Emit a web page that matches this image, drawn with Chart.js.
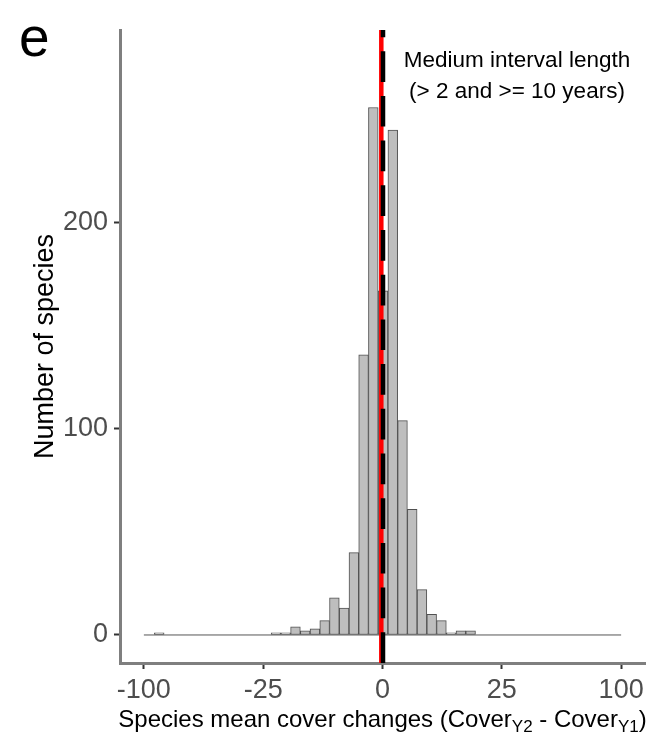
<!DOCTYPE html>
<html><head><meta charset="utf-8">
<script src="https://cdn.jsdelivr.net/npm/chart.js@4.4.1/dist/chart.umd.min.js"></script>
<style>html,body{margin:0;padding:0;background:#fff;}#wrap{width:649px;height:738px;}</style>
</head><body><div id="wrap"><canvas id="c" width="649" height="738"></canvas></div>
<script>
// Histogram bins: centres on the signed-square-root scale of the x axis
const binCentersSqrt = [-9.356, -4.463, -4.055, -3.647, -3.239, -2.832, -2.424, -2.016, -1.608, -1.200, -0.793, -0.385, 0.023, 0.431, 0.839, 1.246, 1.654, 2.062, 2.470, 2.878, 3.285, 3.693];
const speciesCounts  = [1, 1, 1, 4, 2, 3, 7, 18, 13, 40, 136, 256, 167, 245, 104, 61, 22, 10, 7, 1, 2, 2];
const xTickValues = [-100, -25, 0, 25, 100];
const xTickLabels = ['-100', '-25', '0', '25', '100'];
const yTickValues = [0, 100, 200];
const yTickLabels = ['0', '100', '200'];
const baselineRange = [-100, 100];
const zeroLineValue = 0;
const meanChangeValue = -0.0025;
const panelLabel = 'e';
const annotationLines = ['Medium interval length', '(> 2 and >= 10 years)'];
const yTitleText = 'Number of species';
const xTitleParts = [
  {t: 'Species mean cover changes (Cover', sub: false},
  {t: 'Y2', sub: true},
  {t: ' - Cover', sub: false},
  {t: 'Y1', sub: true},
  {t: ')', sub: false}
];

const ssqrt = v => Math.sign(v) * Math.sqrt(Math.abs(v));
const FONT = "'Liberation Sans', Arial, sans-serif";

const overlay = {
  id: 'overlay',
  afterDatasetsDraw(chart) {
    const {ctx, chartArea, scales: {x}} = chart;
    const xr = x.getPixelForValue(ssqrt(meanChangeValue));
    ctx.save();
    ctx.strokeStyle = '#FF0000';
    ctx.lineWidth = 4.5;
    ctx.beginPath(); ctx.moveTo(xr, chartArea.bottom); ctx.lineTo(xr, chartArea.top); ctx.stroke();
    const xz = x.getPixelForValue(ssqrt(zeroLineValue)) + 0.5;
    ctx.strokeStyle = '#000000';
    ctx.lineWidth = 4.5;
    ctx.setLineDash([30.7, 14]);
    ctx.beginPath(); ctx.moveTo(xz, chartArea.bottom); ctx.lineTo(xz, chartArea.top); ctx.stroke();
    ctx.restore();
  },
  afterDraw(chart) {
    const {ctx, chartArea} = chart;
    ctx.save();
    ctx.fillStyle = '#000';
    ctx.font = '55px ' + FONT;
    ctx.textAlign = 'left'; ctx.textBaseline = 'alphabetic';
    ctx.fillText(panelLabel, 19, 56);
    ctx.font = '22.5px ' + FONT;
    ctx.textAlign = 'center';
    ctx.fillText(annotationLines[0], 517, 67);
    ctx.fillText(annotationLines[1], 517, 98);
    ctx.font = '27px ' + FONT;
    ctx.save();
    ctx.translate(53, (chartArea.top + chartArea.bottom) / 2);
    ctx.rotate(-Math.PI / 2);
    ctx.textAlign = 'center';
    ctx.fillText(yTitleText, 0, 0);
    ctx.restore();
    const mainF = '24px ' + FONT, subF = '17px ' + FONT;
    let total = 0;
    xTitleParts.forEach(p => { ctx.font = p.sub ? subF : mainF; p.w = ctx.measureText(p.t).width; total += p.w; });
    let cx = (chartArea.left + chartArea.right) / 2 - total / 2;
    ctx.textAlign = 'left';
    xTitleParts.forEach(p => {
      ctx.font = p.sub ? subF : mainF;
      ctx.fillText(p.t, cx, p.sub ? 732 : 727);
      cx += p.w;
    });
    ctx.restore();
  }
};

new Chart(document.getElementById('c'), {
  data: {
    datasets: [
      {
        type: 'bar',
        data: binCentersSqrt.map((c, i) => ({x: c, y: speciesCounts[i]})),
        backgroundColor: '#BEBEBE',
        borderColor: '#505050',
        borderWidth: 1,
        borderSkipped: false,
        barPercentage: 1,
        categoryPercentage: 1,
        grouped: false,
        order: 1
      },
      {
        type: 'line',
        data: baselineRange.map(v => ({x: ssqrt(v), y: 0})),
        borderColor: '#555555',
        borderWidth: 1,
        pointRadius: 0,
        order: 2
      }
    ]
  },
  options: {
    responsive: false,
    animation: false,
    devicePixelRatio: 1,
    layout: {padding: {top: 30, right: 4, left: 0, bottom: 0}},
    plugins: {legend: {display: false}, tooltip: {enabled: false}},
    scales: {
      x: {
        type: 'linear', min: -11, max: 11, offset: false,
        afterBuildTicks: s => { s.ticks = xTickValues.map(v => ({value: ssqrt(v)})); },
        afterFit: s => { s.height = 75; },
        ticks: {callback: (v, i) => xTickLabels[i], autoSkip: false, maxRotation: 0,
          font: {family: FONT, size: 27}, color: '#4D4D4D', padding: 5},
        grid: {display: true, offset: false, drawOnChartArea: false, drawTicks: true, tickLength: 6, tickWidth: 2, tickColor: '#333333'},
        border: {display: true, color: '#7F7F7F', width: 3}
      },
      y: {
        type: 'linear', min: -13.6, max: 293.6,
        afterBuildTicks: s => { s.ticks = yTickValues.map(v => ({value: v})); },
        afterFit: s => { s.width = 120; },
        ticks: {callback: (v, i) => yTickLabels[i], autoSkip: false,
          font: {family: FONT, size: 27}, color: '#4D4D4D', padding: 6},
        grid: {display: true, drawOnChartArea: false, drawTicks: true, tickLength: 6, tickWidth: 2, tickColor: '#333333'},
        border: {display: true, color: '#7F7F7F', width: 3}
      }
    }
  },
  plugins: [overlay]
});
</script></body></html>
